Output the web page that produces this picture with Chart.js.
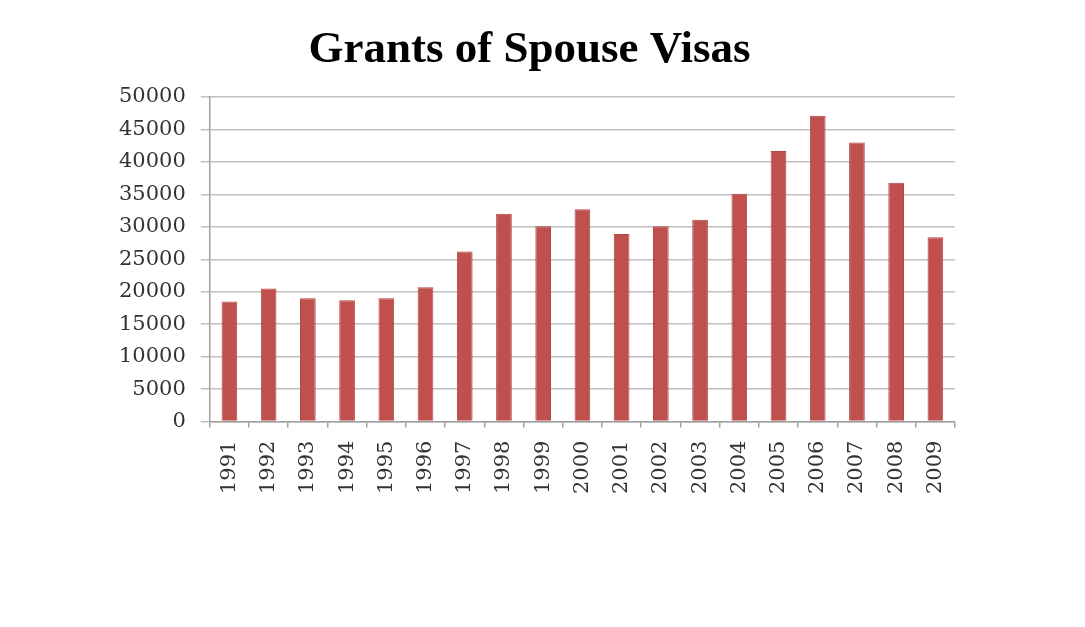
<!DOCTYPE html>
<html>
<head>
<meta charset="utf-8">
<script src="https://cdn.jsdelivr.net/npm/chart.js@4/dist/chart.umd.min.js"></script>
<style>
  html, body { margin: 0; padding: 0; background: #fff; }
  #wrap { width: 1085px; height: 627px; position: relative; }
</style>
</head>
<body>
<div id="wrap"><canvas id="myChart"></canvas></div>
<script>
    // years on the x axis
    var years = ['1991', '1992', '1993', '1994', '1995', '1996', '1997', '1998', '1999', '2000',
      '2001', '2002', '2003', '2004', '2005', '2006', '2007', '2008', '2009'];
    // grants per year
    var grants = [18500, 20500, 19000, 18700, 19000, 20700, 26200, 32000, 30100, 32700,
      28900, 30100, 31100, 35100, 41700, 47100, 43000, 36800, 28400];
    var yTicks = [0, 5000, 10000, 15000, 20000, 25000, 30000, 35000, 40000, 45000, 50000];

    var ctx = document.getElementById('myChart').getContext('2d');
    var data = {
      labels: years,
      datasets: [
        {
          label: 'Grants of Spouse Visas',
          data: grants,
          backgroundColor: 'rgb(192, 80, 77)',
          borderColor: 'rgb(180, 70, 68)',
          borderWidth: 1,
          barPercentage: 0.4,
          categoryPercentage: 1
        }
      ]
    };

    var options = {
      responsive: true,
      maintainAspectRatio: false,
      animation: false,
      layout: {
        padding: { left: 104, right: 130, top: 10, bottom: 120 }
      },
      plugins: {
        legend: { display: false },
        tooltip: { enabled: false },
        title: {
          display: true,
          text: 'Grants of Spouse Visas',
          color: '#000',
          font: { family: 'Liberation Serif', size: 45, weight: 'bold' },
          padding: { top: 13, bottom: 20 }
        }
      },
      scales: {
        x: {
          grid: {
            offset: true,
            drawOnChartArea: false,
            drawTicks: true,
            tickLength: 6,
            color: '#a0a0a0',
            lineWidth: 1.5
          },
          border: { color: '#a0a0a0', width: 1.5 },
          ticks: {
            minRotation: 90,
            maxRotation: 90,
            autoSkip: false,
            padding: 13,
            color: '#333',
            font: { family: 'DejaVu Serif', size: 21 }
          }
        },
        y: {
          min: 0,
          max: 50000,
          afterBuildTicks: function(axis) {
            axis.ticks = yTicks.map(function(v) { return { value: v }; });
          },
          grid: {
            color: '#c0c0c0',
            lineWidth: 1.5,
            tickLength: 9
          },
          border: { color: '#a0a0a0', width: 1.5 },
          ticks: {
            padding: 15,
            color: '#333',
            font: { family: 'DejaVu Serif', size: 21 },
            callback: function(value) { return String(value); }
          }
        }
      }
    };

    var myChart = new Chart(ctx, {
      type: 'bar',
      data: data,
      options: options
    });
</script>
</body>
</html>
